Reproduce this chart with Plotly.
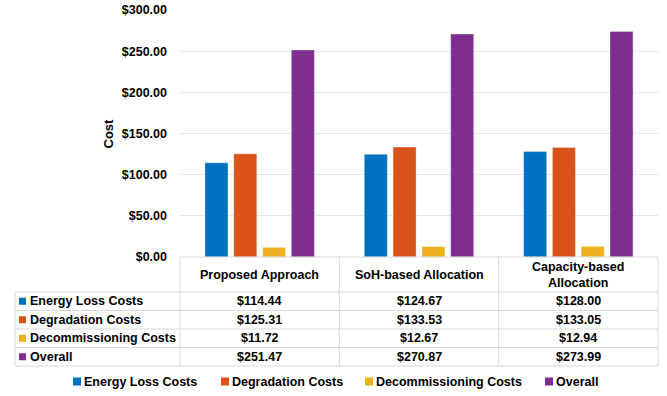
import plotly.graph_objects as go

W, H = 667, 396

categories = ["Proposed Approach", "SoH-based Allocation", "Capacity-based Allocation"]
header_labels = ["Proposed Approach", "SoH-based Allocation", "Capacity-based<br>Allocation"]
series_names = ["Energy Loss Costs", "Degradation Costs", "Decommissioning Costs", "Overall"]
energy_loss = [114.44, 124.67, 128.00]
degradation = [125.31, 133.53, 133.05]
decommissioning = [11.72, 12.67, 12.94]
overall = [251.47, 270.87, 273.99]
y_ticks = [0, 50, 100, 150, 200, 250, 300]

colors = ["#0070C0", "#D95319", "#EDB120", "#7E2F8E"]
series_values = [energy_loss, degradation, decommissioning, overall]

FONT = "Liberation Sans, Arial, Helvetica, sans-serif"
GRID = "#d9d9d9"


def px_x(x):
    return x / W


def px_y(y):
    return 1 - y / H


# plot area / table geometry in pixels
left, right = 180, 658
top, bottom = 10, 257
label_left = 15
row_lines = [292, 310.5, 329, 347.5, 366]
col_w = (right - left) / 3

fig = go.Figure()
for name, vals, c in zip(series_names, series_values, colors):
    fig.add_trace(go.Bar(
        x=categories, y=vals, name=name,
        marker=dict(color=c, line=dict(color="rgba(255,255,255,0.6)", width=0.6)),
        showlegend=False,
    ))

shapes = []
line = dict(color=GRID, width=1)
# table top border (axis baseline)
shapes.append(dict(type="line", xref="paper", yref="paper", x0=px_x(left), x1=px_x(right),
                   y0=px_y(bottom), y1=px_y(bottom), line=line))
# horizontal row lines
for ry in row_lines:
    shapes.append(dict(type="line", xref="paper", yref="paper", x0=px_x(label_left), x1=px_x(right),
                       y0=px_y(ry), y1=px_y(ry), line=line))
# vertical column lines
for i in range(4):
    cx = left + i * col_w
    shapes.append(dict(type="line", xref="paper", yref="paper", x0=px_x(cx), x1=px_x(cx),
                       y0=px_y(bottom), y1=px_y(row_lines[-1]), line=line))
shapes.append(dict(type="line", xref="paper", yref="paper", x0=px_x(label_left), x1=px_x(label_left),
                   y0=px_y(row_lines[0]), y1=px_y(row_lines[-1]), line=line))

annotations = []
txt = dict(family=FONT, size=12.5, color="black", weight="bold")

# header cells
header_y = (bottom + row_lines[0]) / 2
for cat, lab in zip(categories, header_labels):
    annotations.append(dict(x=cat, xref="x", y=px_y(header_y), yref="paper", text=lab,
                            showarrow=False, font=txt, xanchor="center", yanchor="middle"))

# data rows
for r, (name, vals, c) in enumerate(zip(series_names, series_values, colors)):
    cy = (row_lines[r] + row_lines[r + 1]) / 2
    shapes.append(dict(type="rect", xref="paper", yref="paper", x0=px_x(19), x1=px_x(26),
                       y0=px_y(cy + 3.5), y1=px_y(cy - 3.5), fillcolor=c, line=dict(width=0)))
    annotations.append(dict(x=px_x(28), xref="paper", y=px_y(cy), yref="paper", text=name,
                            showarrow=False, font=txt, xanchor="left", yanchor="middle"))
    for cat, v in zip(categories, vals):
        annotations.append(dict(x=cat, xref="x", y=px_y(cy), yref="paper", text=f"${v:,.2f}",
                                showarrow=False, font=txt, xanchor="center", yanchor="middle"))

# legend
legend_y = 381.5
legend_sq = [73, 221, 365, 545]
for name, c, sx in zip(series_names, colors, legend_sq):
    shapes.append(dict(type="rect", xref="paper", yref="paper", x0=px_x(sx), x1=px_x(sx + 8),
                       y0=px_y(legend_y + 4), y1=px_y(legend_y - 4), fillcolor=c, line=dict(width=0)))
    annotations.append(dict(x=px_x(sx + 9), xref="paper", y=px_y(legend_y), yref="paper", text=name,
                            showarrow=False, font=txt, xanchor="left", yanchor="middle"))

# y axis title
annotations.append(dict(x=px_x(108), xref="paper", y=px_y((top + bottom) / 2), yref="paper",
                        text="Cost", textangle=-90, showarrow=False,
                        font=dict(family=FONT, size=13, color="black", weight="bold"),
                        xanchor="center", yanchor="middle"))

fig.update_layout(
    template="none",
    width=W, height=H,
    margin=dict(l=0, r=0, t=0, b=0, pad=0),
    paper_bgcolor="white", plot_bgcolor="white",
    barmode="group", bargap=0.277, bargroupgap=0.2,
    xaxis=dict(domain=[px_x(left), px_x(right)], range=[-0.5, 2.5], showticklabels=False,
               showgrid=False, zeroline=False, showline=False, automargin=False, fixedrange=True),
    yaxis=dict(domain=[px_y(bottom), px_y(top)], range=[0, 300], tickvals=y_ticks,
               tickformat="$,.2f", tickfont=dict(family=FONT, size=12.5, color="black", weight="bold"),
               showgrid=True, gridcolor="#e6e6e6", gridwidth=1, zeroline=False, showline=False,
               ticks="", ticklabelstandoff=12, automargin=False, fixedrange=True),
    shapes=shapes,
    annotations=annotations,
    showlegend=False,
    font=dict(family=FONT),
)

# page body margin would push the 667x396 figure off the window
fig.write_html("out.html", config={"displayModeBar": False},
               post_script="document.body.style.margin='0';document.body.style.overflow='hidden';")
